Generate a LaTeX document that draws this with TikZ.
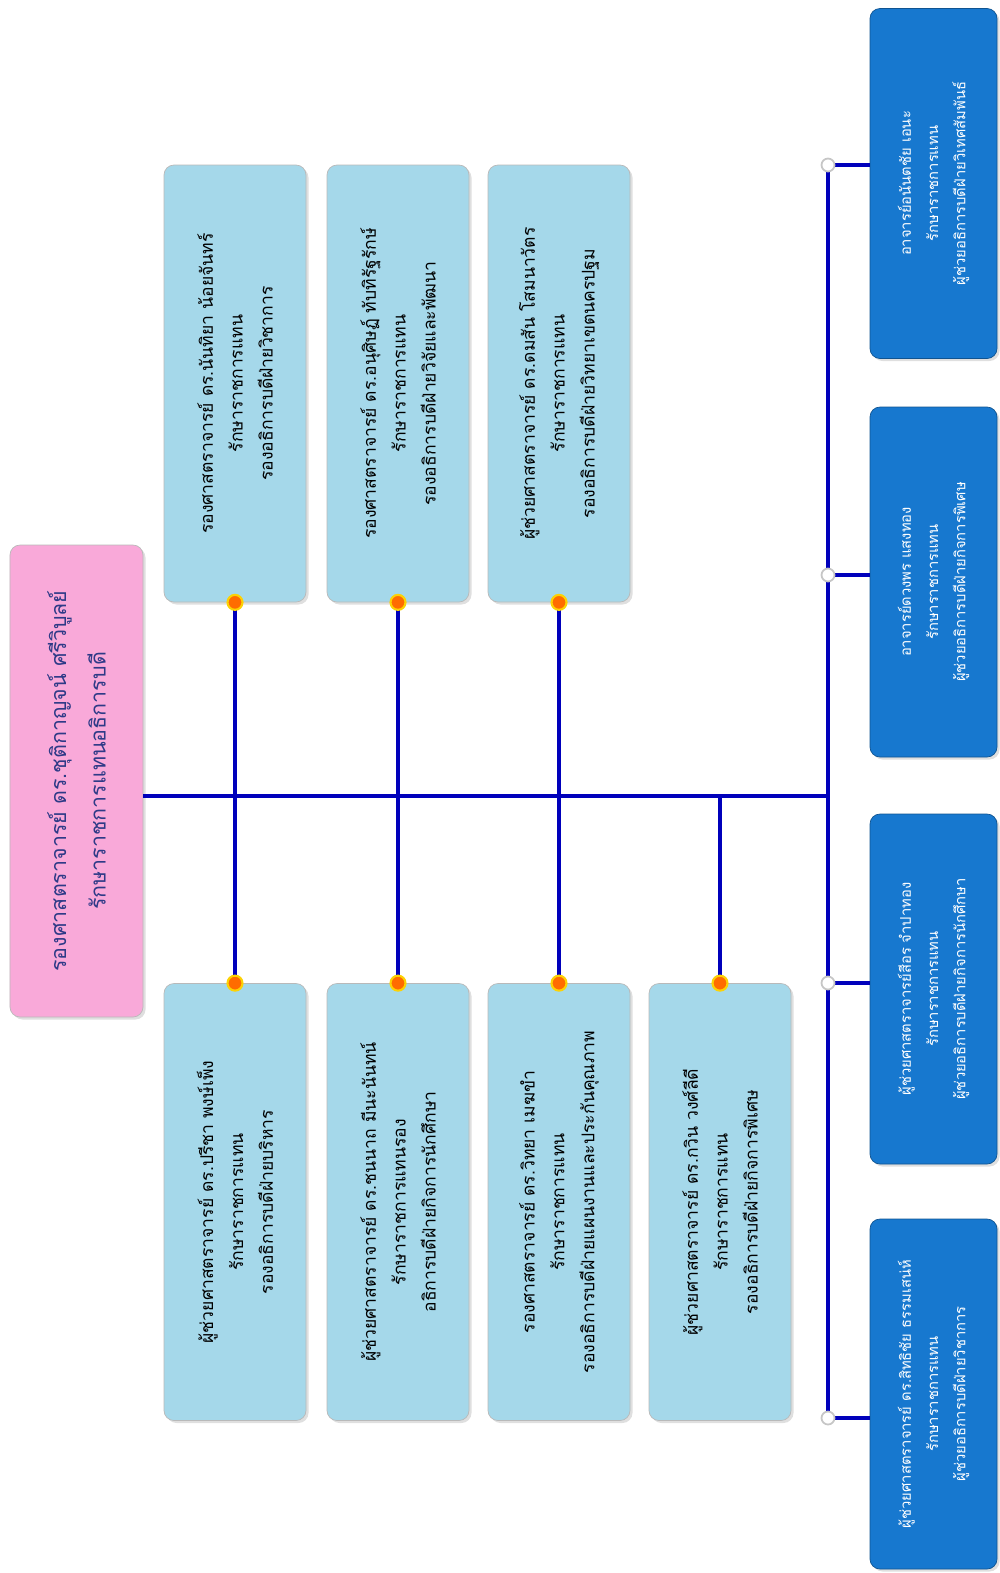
\documentclass[tikz,border=0pt]{standalone}
\usepackage{fontspec}
\usepackage{xcolor}
\usetikzlibrary{shadows}
\newfontfamily\thaifont[Script=Thai]{Loma}

\begin{document}
\begin{tikzpicture}[x=0.2mm, y=-0.2mm]

% =======================================================
% Color definitions
% =======================================================
\definecolor{cpink}{HTML}{F9A9D9}   % acting president
\definecolor{clight}{HTML}{A5D8EA}  % vice presidents
\definecolor{cdark}{HTML}{1778CF}   % assistants to the president
\definecolor{cline}{HTML}{0000BB}   % connectors
\definecolor{cnavy}{HTML}{2E3A87}   % text in pink box

% =======================================================
% Layout parameters (picture pixels)
% =======================================================
\def\trunkY{796}   % main horizontal line
\def\busX{828}     % right vertical bus
\def\upY{383.5}    % centre of upper row
\def\loY{1202}     % centre of lower row

% =======================================================
% Styles
% =======================================================
\tikzset{
  box/.style    = {rotate=90, rounded corners=2mm, draw=gray!55, inner sep=0pt,
                   align=center, drop shadow={opacity=0.25, shadow xshift=0.5mm, shadow yshift=-0.5mm}},
  headbox/.style = {box, fill=cpink, text=cnavy, minimum width=94.4mm, minimum height=26.6mm,
                   font=\thaifont\fontsize{12.2}{22.5}\selectfont},
  vpbox/.style  = {box, fill=clight, minimum width=87.4mm, minimum height=28.4mm,
                   font=\thaifont\fontsize{10}{17}\selectfont},
  asbox/.style  = {box, fill=cdark, draw=cdark!70!black, text=white, minimum width=70mm,
                   minimum height=25.4mm, font=\thaifont\fontsize{8.4}{15.5}\selectfont},
  link/.style   = {cline, line width=0.75mm},
  odot/.style   = {circle, fill=orange!85!red, draw=yellow!70!orange, line width=1.2pt,
                   minimum size=3mm, inner sep=0pt},
  gdot/.style   = {circle, fill=white, draw=gray!45, line width=1pt,
                   minimum size=2.6mm, inner sep=0pt},
}

\useasboundingbox (0,0) rectangle (1000,1573);

% =======================================================
% Acting president
% =======================================================
\node[headbox] (pres) at (76.5,781)
  {รองศาสตราจารย์ ดร.ชุติกาญจน์ ศรีวิบูลย์\\รักษาราชการแทนอธิการบดี};

% =======================================================
% Vice presidents, upper row
% =======================================================
\node[vpbox] (up1) at (235,\upY)
  {รองศาสตราจารย์ ดร.นันทิยา น้อยจันทร์\\รักษาราชการแทน\\รองอธิการบดีฝ่ายวิชาการ};
\node[vpbox] (up2) at (398,\upY)
  {รองศาสตราจารย์ ดร.อนุศิษฏ์ ทับทิรัฐรักษ์\\รักษาราชการแทน\\รองอธิการบดีฝ่ายวิจัยและพัฒนา};
\node[vpbox] (up3) at (559,\upY)
  {ผู้ช่วยศาสตราจารย์ ดร.ดมสัน โสมนาวัตร\\รักษาราชการแทน\\รองอธิการบดีฝ่ายวิทยาเขตนครปฐม};

% =======================================================
% Vice presidents, lower row
% =======================================================
\node[vpbox] (lo1) at (235,\loY)
  {ผู้ช่วยศาสตราจารย์ ดร.ปรีชา พงษ์เพ็ง\\รักษาราชการแทน\\รองอธิการบดีฝ่ายบริหาร};
\node[vpbox] (lo2) at (398,\loY)
  {ผู้ช่วยศาสตราจารย์ ดร.ชนนาถ มีนะนันทน์\\รักษาราชการแทนรอง\\อธิการบดีฝ่ายกิจการนักศึกษา};
\node[vpbox] (lo3) at (559,\loY)
  {รองศาสตราจารย์ ดร.วิทยา เมฆขำ\\รักษาราชการแทน\\รองอธิการบดีฝ่ายแผนงานและประกันคุณภาพ};
\node[vpbox] (lo4) at (720,\loY)
  {ผู้ช่วยศาสตราจารย์ ดร.กวิน วงศ์ลีดี\\รักษาราชการแทน\\รองอธิการบดีฝ่ายกิจการพิเศษ};

% =======================================================
% Assistants to the president, right column
% =======================================================
\node[asbox] (asA) at (933.5,183.5)
  {อาจารย์อนันตชัย เอนะ\\รักษาราชการแทน\\ผู้ช่วยอธิการบดีฝ่ายวิเทศสัมพันธ์};
\node[asbox] (asB) at (933.5,582)
  {อาจารย์ดวงพร แสงทอง\\รักษาราชการแทน\\ผู้ช่วยอธิการบดีฝ่ายกิจการพิเศษ};
\node[asbox] (asC) at (933.5,989)
  {ผู้ช่วยศาสตราจารย์สีอร จำปาทอง\\รักษาราชการแทน\\ผู้ช่วยอธิการบดีฝ่ายกิจการนักศึกษา};
\node[asbox] (asD) at (933.5,1394)
  {ผู้ช่วยศาสตราจารย์ ดร.สิทธิชัย ธรรมเสน่ห์\\รักษาราชการแทน\\ผู้ช่วยอธิการบดีฝ่ายวิชาการ};

% bus taps
\coordinate (trunk) at (\busX,\trunkY);
\coordinate (busA)  at (\busX,165);
\coordinate (busB)  at (\busX,575);
\coordinate (busC)  at (\busX,983);
\coordinate (busD)  at (\busX,1418);

% =======================================================
% Connectors
% =======================================================
\draw[link] (pres.south |- trunk) -- (trunk);
\draw[link] (busA) -- (busD);

\draw[link] (up1.west) -- (lo1.east);
\draw[link] (up2.west) -- (lo2.east);
\draw[link] (up3.west) -- (lo3.east);
\draw[link] (lo4.east) -- (lo4.east |- trunk);

\draw[link] (busA) -- (busA -| asA.north);
\draw[link] (busB) -- (busB -| asB.north);
\draw[link] (busC) -- (busC -| asC.north);
\draw[link] (busD) -- (busD -| asD.north);

% connection dots
\foreach \b in {up1,up2,up3}
  \node[odot] at (\b.west) {};
\foreach \b in {lo1,lo2,lo3,lo4}
  \node[odot] at (\b.east) {};
\foreach \b in {busA,busB,busC,busD}
  \node[gdot] at (\b) {};

\end{tikzpicture}
\end{document}
